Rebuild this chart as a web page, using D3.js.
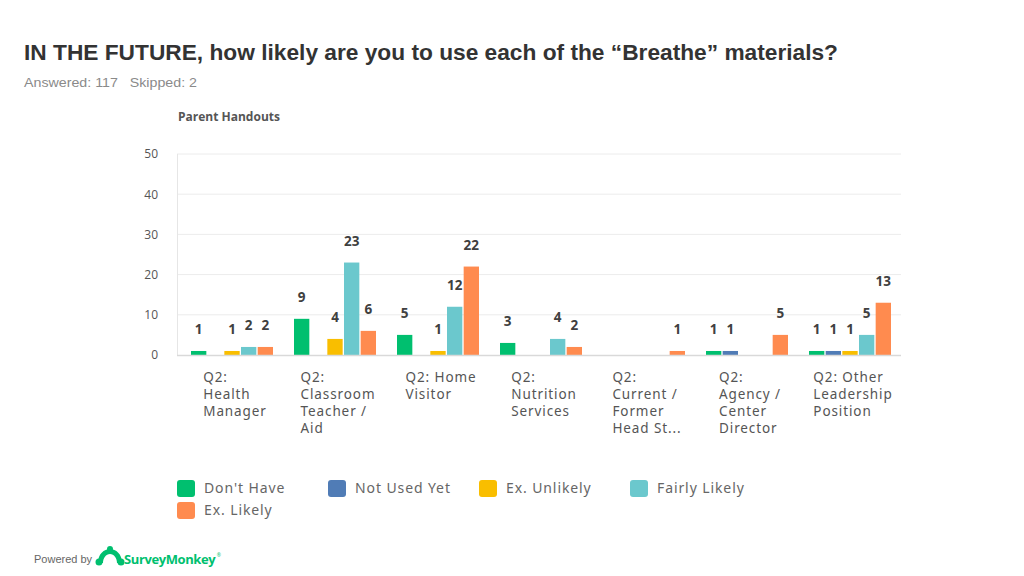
<!DOCTYPE html>
<html><head><meta charset="utf-8">
<script src="https://cdn.jsdelivr.net/npm/d3@7"></script>
<style>
html,body{margin:0;padding:0;background:#fff;}
svg{display:block;}
</style></head>
<body>
<svg id="chart" width="1024" height="576"></svg>
<script>
const categories = ["Q2: Health Manager","Q2: Classroom Teacher / Aid","Q2: Home Visitor","Q2: Nutrition Services","Q2: Current / Former Head St...","Q2: Agency / Center Director","Q2: Other Leadership Position"];
const categoryLines = [["Q2:","Health","Manager"],["Q2:","Classroom","Teacher /","Aid"],["Q2: Home","Visitor"],["Q2:","Nutrition","Services"],["Q2:","Current /","Former","Head St..."],["Q2:","Agency /","Center","Director"],["Q2: Other","Leadership","Position"]];
const seriesNames = ["Don't Have","Not Used Yet","Ex. Unlikely","Fairly Likely","Ex. Likely"];
const seriesColors = ["#00bf6f","#507cb6","#f9be00","#6bc8cd","#ff8b4f"];
const dontHave     = [1, 9, 5, 3, 0, 1, 1];
const notUsedYet   = [0, 0, 0, 0, 0, 1, 1];
const exUnlikely   = [1, 4, 1, 0, 0, 0, 1];
const fairlyLikely = [2, 23, 12, 4, 0, 0, 5];
const exLikely     = [2, 6, 22, 2, 1, 5, 13];
const yTicks = [0,10,20,30,40,50];

const seriesValues = [dontHave, notUsedYet, exUnlikely, fairlyLikely, exLikely];
const svg = d3.select("#chart");

// Title
svg.append("text").attr("x",24).attr("y",60)
  .attr("font-family","'Liberation Sans', Arial, sans-serif").attr("font-weight","bold")
  .attr("font-size",21.5).attr("fill","#333").attr("textLength",814).attr("lengthAdjust","spacingAndGlyphs")
  .text("IN THE FUTURE, how likely are you to use each of the \u201CBreathe\u201D materials?");
svg.append("text").attr("x",24).attr("y",87)
  .attr("font-family","'Liberation Sans', Arial, sans-serif")
  .attr("font-size",13.5).attr("fill","#8a8a8a").attr("xml:space","preserve")
  .attr("textLength",173).attr("lengthAdjust","spacingAndGlyphs")
  .text("Answered: 117   Skipped: 2");

// chart subtitle
svg.append("text").attr("x",178).attr("y",121)
  .attr("font-family","'Open Sans', sans-serif").attr("font-weight","bold")
  .attr("font-size",12).attr("fill","#555").text("Parent Handouts");

const x0 = d3.scaleBand().domain(categories).range([177, 898]);
const x1 = d3.scaleBand().domain(seriesNames).range([14, 96]).paddingInner(0.08);
const y = d3.scaleLinear().domain([0,50]).range([355,154]);

// grid
const g = svg.append("g");
g.selectAll("line.grid").data(yTicks.filter(t=>t>0)).join("line")
  .attr("x1",177).attr("x2",901).attr("y1",d=>y(d)).attr("y2",d=>y(d))
  .attr("stroke","#ececec").attr("stroke-width",1);
g.append("line").attr("x1",177.5).attr("x2",177.5).attr("y1",y(50)).attr("y2",y(0))
  .attr("stroke","#e6e6e6");

// y axis
const yAxis = d3.axisLeft(y).tickValues(yTicks).tickSize(0).tickPadding(19);
const ya = svg.append("g").attr("transform","translate(177,0)").call(yAxis);
ya.select(".domain").remove();
ya.selectAll("text").attr("font-family","'Open Sans', sans-serif").attr("font-size",12).attr("fill","#555");

// bars
const data = [];
categories.forEach((c,i)=>seriesNames.forEach((s,j)=>data.push({c, s, v: seriesValues[j][i], color: seriesColors[j]})));
svg.append("g").selectAll("rect").data(data.filter(d=>d.v>0)).join("rect")
  .attr("x",d=>x0(d.c)+x1(d.s)).attr("width",x1.bandwidth())
  .attr("y",d=>y(d.v)).attr("height",d=>y(0)-y(d.v)).attr("fill",d=>d.color);

// baseline
svg.append("line").attr("x1",177).attr("x2",901).attr("y1",355.5).attr("y2",355.5)
  .attr("stroke","#d9d9d9").attr("stroke-width",1.5);

// value labels
svg.append("g").selectAll("text").data(data.filter(d=>d.v>0)).join("text")
  .attr("x",d=>x0(d.c)+x1(d.s)+x1.bandwidth()/2).attr("y",d=>y(d.v)-17)
  .attr("text-anchor","middle").attr("font-family","'Open Sans', sans-serif")
  .attr("font-weight","bold").attr("font-size",13.5).attr("fill","#404040")
  .text(d=>d.v);

// x labels: block centered under band, lines left-aligned
const xl = svg.append("g");
categories.forEach((c,i)=>{
  const t = xl.append("text").attr("y",382)
    .attr("font-family","'Noto Sans', sans-serif").attr("font-size",13.5)
    .attr("letter-spacing",0.9).attr("fill","#555");
  const spans = categoryLines[i].map((ln,k)=>t.append("tspan").attr("dy",k===0?0:17).text(ln));
  const w = d3.max(spans, s=>s.node().getComputedTextLength());
  const left = x0(c) + x0.bandwidth()/2 + 6.5 - w/2;
  spans.forEach(s=>s.attr("x",left));
});

// legend
const leg = svg.append("g");
seriesNames.forEach((s,i)=>{
  const col = i%4, row = Math.floor(i/4);
  const lx = 177 + col*151, ly = 480 + row*22;
  leg.append("rect").attr("x",lx).attr("y",ly).attr("width",18).attr("height",17).attr("rx",3)
    .attr("fill",seriesColors[i]);
  leg.append("text").attr("x",lx+27).attr("y",ly+13).attr("font-family","'Noto Sans', sans-serif")
    .attr("font-size",14).attr("letter-spacing",0.9).attr("fill","#666").text(s);
});

// footer
svg.append("text").attr("x",34).attr("y",563).attr("font-family","'Liberation Sans', Arial, sans-serif")
  .attr("font-size",11).attr("fill","#666").text("Powered by");
const logo = svg.append("g").attr("transform","translate(110,558)");
logo.append("path").attr("d","M-12,5 C-12,-4 -6,-9 0,-9 C6,-9 12,-4 12,5 L7,5 C7,0 4,-4 0,-4 C-4,-4 -7,0 -7,5 Z").attr("fill","#00bf6f");
logo.append("circle").attr("cx",-11).attr("cy",4).attr("r",3.5).attr("fill","#00bf6f");
logo.append("circle").attr("cx",11).attr("cy",4).attr("r",3.5).attr("fill","#00bf6f");
logo.append("circle").attr("cx",0).attr("cy",-9).attr("r",3).attr("fill","#00bf6f");
const brand = svg.append("text").attr("x",124).attr("y",564).attr("font-family","'Open Sans', sans-serif")
  .attr("font-weight","bold").attr("font-size",13).attr("letter-spacing",-0.4)
  .attr("fill","#00bf6f");
brand.append("tspan").text("SurveyMonkey");
brand.append("tspan").attr("font-size",5).attr("font-weight","normal").attr("dx",1.5).attr("dy",-7).text("®");
</script>
</body></html>
